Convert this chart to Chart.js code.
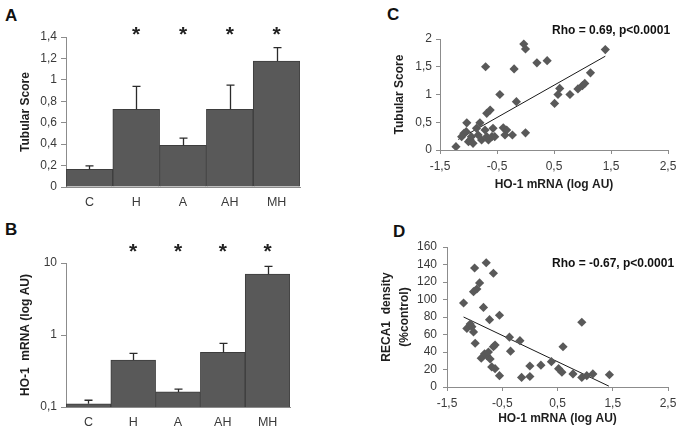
<!DOCTYPE html>
<html>
<head>
<meta charset="utf-8">
<script src="https://cdn.jsdelivr.net/npm/chart.js@4.4.1/dist/chart.umd.min.js"></script>
<style>
  html, body { margin: 0; padding: 0; background: #ffffff; }
  body { width: 685px; height: 434px; position: relative; overflow: hidden; font-family: "Liberation Sans", Arial, sans-serif; }
  .cv { position: absolute; }
  .letter { position: absolute; font: bold 17px "Liberation Sans", Arial, sans-serif; color: #111; line-height: 17px; }
</style>
</head>
<body>
<div class="letter" style="left:5px;top:7px;">A</div>
<div class="letter" style="left:5px;top:221px;">B</div>
<div class="letter" style="left:387px;top:6px;">C</div>
<div class="letter" style="left:393px;top:223px;">D</div>
<div class="cv" style="left:0;top:0;width:340px;height:215px;"><canvas id="cA"></canvas></div>
<div class="cv" style="left:0;top:217px;width:340px;height:217px;"><canvas id="cB"></canvas></div>
<div class="cv" style="left:340px;top:0;width:345px;height:217px;"><canvas id="cC"></canvas></div>
<div class="cv" style="left:340px;top:217px;width:345px;height:217px;"><canvas id="cD"></canvas></div>
<script>
// ---------- DATA ----------
const categories = ["C", "H", "A", "AH", "MH"];
const significance = ["", "*", "*", "*", "*"];
const tubularMean = [0.166, 0.725, 0.39, 0.725, 1.175];
const tubularErrTop = [0.197, 0.94, 0.456, 0.95, 1.30];
const hoMean = [0.111, 0.448, 0.162, 0.573, 7.0];
const hoErrTop = [0.124, 0.555, 0.177, 0.766, 8.98];
const logTicks = [0.1, 1, 10];

const hoLogC = [-1.22, -1.12, -1.08, -1.03, -1.04, -1.0, -0.97, -0.95, -0.92, -0.86, -0.83, -0.80, -0.77, -0.71, -0.70, -0.68, -0.68, -0.65, -0.62, -0.59, -0.57, -0.54, -0.45, -0.39, -0.36, -0.33, -0.23, -0.20, -0.16, 0.0, -0.03, 0.0, 0.20, 0.38, 0.51, 0.57, 0.60, 0.78, 0.92, 1.0, 1.04, 1.14, 1.40];
const tubularC = [0.06, 0.24, 0.30, 0.49, 0.33, 0.15, 0.18, 0.24, 0.12, 0.39, 0.27, 0.49, 0.18, 0.36, 1.50, 0.24, 0.66, 0.18, 0.72, 0.24, 0.39, 0.24, 1.0, 0.40, 0.27, 0.36, 0.27, 1.46, 0.87, 0.31, 1.91, 1.82, 1.57, 1.61, 0.84, 1.0, 1.11, 1.0, 1.10, 1.16, 1.20, 1.39, 1.81];
const trendCx = [-1.18, 1.40];
const trendCy = [0.19, 1.69];
const rhoC = "Rho = 0.69, p<0.0001";

const hoLogD = [-1.2, -1.0, -0.79, -0.66, -0.91, -0.96, -1.02, -0.84, -0.73, -0.55, -1.14, -1.05, -1.02, -0.99, -0.88, -0.78, -0.72, -0.66, -0.63, -0.69, -0.63, -0.55, -0.37, -0.35, -0.18, -0.15, 0.0, 0.0, 0.2, 0.39, 0.52, 0.58, 0.6, 0.78, 0.94, 0.94, 1.03, 1.14, 1.44, -0.82, -0.75, -1.08];
const recaD = [96, 136, 142, 130, 119, 112, 109, 91, 77, 82, 67, 69, 63, 50, 33, 36, 32, 46, 48, 23, 21, 13, 57, 41, 53, 11, 24, 12, 25, 29, 21, 17, 46, 15, 74, 11, 13, 15, 14, 38, 40, 72];
const trendDx = [-1.2, 1.43];
const trendDy = [80, 1];
const rhoD = "Rho = -0.67, p<0.0001";

// ---------- STYLE ----------
const FONT = "'Liberation Sans', Arial, sans-serif";
const BAR = "#595959";
const AXIS = "#8c8c8c";
const TXT = "#3a3a3a";
const fmt = v => String(Math.round(v * 100) / 100).replace('.', ',');

const errorBars = {
  id: 'errorBars',
  afterDatasetsDraw(chart, args, opts) {
    const ctx = chart.ctx;
    const meta = chart.getDatasetMeta(0);
    const ys = chart.scales.y;
    ctx.save();
    ctx.strokeStyle = "#2b2b2b";
    ctx.lineWidth = 1.3;
    meta.data.forEach((bar, i) => {
      const x = Math.round(bar.x) + 0.5;
      const yt = ys.getPixelForValue(opts.tops[i]);
      ctx.beginPath();
      ctx.moveTo(x, bar.y);
      ctx.lineTo(x, yt);
      ctx.moveTo(x - 4, yt);
      ctx.lineTo(x + 4, yt);
      ctx.stroke();
    });
    // significance marks
    ctx.fillStyle = "#222";
    ctx.font = "bold 21px " + FONT;
    ctx.textAlign = "center";
    ctx.textBaseline = "alphabetic";
    meta.data.forEach((bar, i) => {
      if (opts.marks[i]) ctx.fillText(opts.marks[i], bar.x, chart.chartArea.top - opts.markOffset + 12);
    });
    ctx.restore();
  }
};

const rhoText = {
  id: 'rhoText',
  afterDraw(chart, args, opts) {
    const ctx = chart.ctx;
    ctx.save();
    ctx.fillStyle = "#111";
    ctx.font = "bold 12px " + FONT;
    ctx.textAlign = "left";
    ctx.textBaseline = "middle";
    ctx.fillText(opts.text, opts.x, opts.y);
    ctx.restore();
  }
};

function barChart(id, data, tops, yScale, pad, yWidth, xHeight, markOffset, title) {
  return new Chart(document.getElementById(id), {
    type: 'bar',
    data: {
      labels: categories,
      datasets: [{
        data: data,
        backgroundColor: BAR,
        borderColor: "#3d3d3d",
        borderWidth: 1,
        categoryPercentage: 1.0,
        barPercentage: 1.0
      }]
    },
    options: {
      responsive: true,
      maintainAspectRatio: false,
      animation: false,
      layout: { padding: pad },
      plugins: {
        legend: { display: false },
        tooltip: { enabled: false },
        errorBars: { tops: tops, marks: significance, markOffset: markOffset }
      },
      scales: {
        x: {
          grid: { display: false },
          border: { display: true, color: AXIS, width: 1 },
          ticks: { color: TXT, font: { family: FONT, size: 12.5 }, padding: 0 },
          afterFit: s => { s.height = xHeight; }
        },
        y: Object.assign({
          grid: { drawOnChartArea: false, drawTicks: true, tickLength: 5, color: AXIS },
          border: { display: true, color: AXIS, width: 1 },
          title: { display: true, text: title, color: "#1e1e1e", font: { family: FONT, size: 12, weight: 'bold' }, padding: { top: 18, bottom: 0 } },
          afterFit: s => { s.width = yWidth; }
        }, yScale)
      }
    },
    plugins: [errorBars]
  });
}

barChart('cA', tubularMean, tubularErrTop, {
  min: 0, max: 1.4,
  ticks: { stepSize: 0.2, color: TXT, font: { family: FONT, size: 12 }, padding: 4, callback: v => fmt(v) }
}, { top: 37, right: 40, left: 0, bottom: 0 }, 66, 28, 8, "Tubular Score");

barChart('cB', hoMean, hoErrTop, {
  type: 'logarithmic', min: 0.1, max: 10,
  afterBuildTicks: s => { s.ticks = logTicks.map(v => ({ value: v })); },
  ticks: { color: TXT, font: { family: FONT, size: 12 }, padding: 4, callback: v => fmt(v) }
}, { top: 46, right: 50, left: 0, bottom: 0 }, 66, 27, 17, "HO-1  mRNA (log AU)");

function scatterChart(id, xs, ys, tx, ty, cfg) {
  return new Chart(document.getElementById(id), {
    type: 'scatter',
    data: {
      datasets: [
        {
          data: xs.map((x, i) => ({ x: x, y: ys[i] })),
          pointStyle: 'rectRot',
          pointRadius: 4.6,
          backgroundColor: BAR,
          borderColor: BAR,
          borderWidth: 0
        },
        {
          type: 'line',
          data: tx.map((x, i) => ({ x: x, y: ty[i] })),
          borderColor: "#1a1a1a",
          borderWidth: 1,
          pointRadius: 0,
          fill: false
        }
      ]
    },
    options: {
      responsive: true,
      maintainAspectRatio: false,
      animation: false,
      layout: { padding: cfg.pad },
      plugins: {
        legend: { display: false },
        tooltip: { enabled: false },
        rhoText: { text: cfg.rho, x: 212, y: cfg.rhoY }
      },
      scales: {
        x: {
          type: 'linear', min: -1.5, max: 2.5,
          grid: { drawOnChartArea: false, drawTicks: true, tickLength: 4, color: AXIS },
          border: { display: true, color: AXIS, width: 1 },
          ticks: { stepSize: 1, color: TXT, font: { family: FONT, size: 12 }, padding: cfg.xPad, callback: v => fmt(v) },
          title: { display: true, text: "HO-1 mRNA (log AU)", color: "#1e1e1e", font: { family: FONT, size: 12, weight: 'bold' }, padding: { top: 0, bottom: cfg.xTitlePad } },
          afterFit: s => { s.height = cfg.xHeight; }
        },
        y: {
          min: cfg.yMin, max: cfg.yMax,
          grid: { drawOnChartArea: false, drawTicks: true, tickLength: 4, color: AXIS },
          border: { display: true, color: AXIS, width: 1 },
          ticks: { stepSize: cfg.yStep, color: TXT, font: { family: FONT, size: 12 }, padding: cfg.yPad, callback: v => fmt(v) },
          title: { display: true, text: cfg.yTitle, color: "#1e1e1e", font: { family: FONT, size: 12, weight: 'bold', lineHeight: 1.5 }, padding: { top: cfg.yTitlePad, bottom: 0 } },
          afterFit: s => { s.width = cfg.yWidth; }
        }
      }
    },
    plugins: [rhoText]
  });
}

scatterChart('cC', hoLogC, tubularC, trendCx, trendCy, {
  pad: { top: 39, right: 17, left: 0, bottom: 0 },
  rho: rhoC, rhoY: 31,
  yMin: 0, yMax: 2, yStep: 0.5,
  yTitle: "Tubular Score", yTitlePad: 51, yWidth: 100, yPad: 4,
  xHeight: 67, xPad: 5, xTitlePad: 25
});

scatterChart('cD', hoLogD, recaD, trendDx, trendDy, {
  pad: { top: 30, right: 17, left: 0, bottom: 0 },
  rho: rhoD, rhoY: 47,
  yMin: 0, yMax: 160, yStep: 20,
  yTitle: ["RECA1  density", "(%control)"], yTitlePad: 38, yWidth: 107, yPad: 6,
  xHeight: 47, xPad: 5, xTitlePad: 8
});
</script>
</body>
</html>
